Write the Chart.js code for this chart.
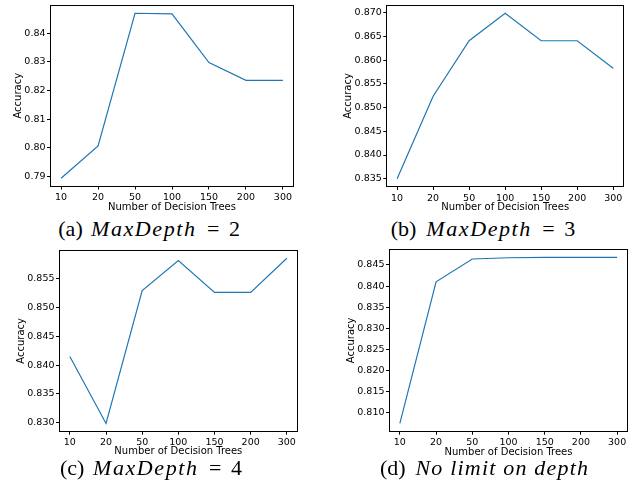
<!DOCTYPE html>
<html>
<head>
<meta charset="utf-8">
<script src="https://cdn.jsdelivr.net/npm/chart.js@4/dist/chart.umd.min.js"></script>
<style>
html,body{margin:0;padding:0;background:#fff;}
body{width:636px;height:487px;position:relative;overflow:hidden;}
canvas{position:absolute;}
.cap{position:absolute;font-family:"Liberation Serif","Times New Roman",serif;font-size:22px;line-height:22px;color:#000;white-space:pre;}
.cap.it{font-style:italic;}
</style>
</head>
<body>
<canvas id="cA" width="318" height="215" style="left:0px;top:0px"></canvas>
<canvas id="cB" width="318" height="215" style="left:318px;top:0px"></canvas>
<canvas id="cC" width="318" height="215" style="left:0px;top:243px"></canvas>
<canvas id="cD" width="318" height="215" style="left:318px;top:243px"></canvas>
<script>
// ---- data ----
const categories = ['10', '20', '50', '100', '150', '200', '300'];
const accDepth2  = [0.7894, 0.8007, 0.8470, 0.8468, 0.8298, 0.8236, 0.8236];
const accDepth3  = [0.8350, 0.8524, 0.8641, 0.8699, 0.8641, 0.8641, 0.8583];
const accDepth4  = [0.8415, 0.8299, 0.8529, 0.8581, 0.8526, 0.8526, 0.8585];
const accNoLimit = [0.8075, 0.8410, 0.8464, 0.8467, 0.8468, 0.8468, 0.8468];
const yTicksA = [0.79, 0.80, 0.81, 0.82, 0.83, 0.84];
const yTicksB = [0.835, 0.840, 0.845, 0.850, 0.855, 0.860, 0.865, 0.870];
const yTicksC = [0.830, 0.835, 0.840, 0.845, 0.850, 0.855];
const yTicksD = [0.810, 0.815, 0.820, 0.825, 0.830, 0.835, 0.840, 0.845];
const xTitle = 'Number of Decision Trees';
const yTitle = 'Accuracy';

// ---- layout (page coordinates) ----
const specs = {
  A: {box:{x:0,y:0,w:318,h:215},   area:{l:50,t:5,r:294,b:186.5},    yTitleX:18.3,  xTitleY:207},
  B: {box:{x:318,y:0,w:318,h:215}, area:{l:386.3,t:5,r:624,b:187},   yTitleX:348,   xTitleY:207},
  C: {box:{x:0,y:243,w:318,h:215}, area:{l:59,t:250,r:297.7,b:431.7}, yTitleX:21,   xTitleY:451.5},
  D: {box:{x:318,y:243,w:318,h:215},area:{l:389,t:249,r:628,b:431.7}, yTitleX:351.5,xTitleY:452}
};

const framePlugin = {
  id: 'frame',
  afterDatasetsDraw(chart) {
    const {ctx, chartArea: a} = chart;
    ctx.save();
    ctx.strokeStyle = '#000';
    ctx.lineWidth = 1;
    const l = Math.round(a.left) + 0.5, t = Math.round(a.top) + 0.5;
    const r = Math.round(a.right) - 0.5, b = Math.round(a.bottom) - 0.5;
    ctx.strokeRect(l, t, r - l, b - t);
    ctx.restore();
  }
};

function makeChart(id, values, yTicks, decimals, spec) {
  const {box, area, yTitleX, xTitleY} = spec;
  const lh = 12;
  const lo = Math.min(...values), hi = Math.max(...values);
  const m = (hi - lo) * 0.05;
  const tickFont = {family: 'DejaVu Sans', size: 9.5};
  const titleFont = {family: 'DejaVu Sans', size: 10, lineHeight: 1.2};
  new Chart(document.getElementById(id), {
    type: 'line',
    data: {
      datasets: [{
        data: values.map((v, i) => ({x: i, y: v})),
        borderColor: '#1f77b4',
        borderWidth: 1.2,
        pointRadius: 0,
        tension: 0,
        fill: false
      }]
    },
    options: {
      responsive: false,
      animation: false,
      devicePixelRatio: 1,
      events: [],
      layout: {padding: {left: 0, top: area.t - box.y, right: box.x + box.w - area.r, bottom: 0}},
      plugins: {legend: {display: false}, tooltip: {enabled: false}},
      scales: {
        x: {
          type: 'linear',
          min: -0.3,
          max: categories.length - 1 + 0.3,
          afterBuildTicks: s => { s.ticks = categories.map((c, i) => ({value: i})); },
          afterFit: s => { s.height = box.y + box.h - area.b; s.paddingLeft = 0; s.paddingRight = 0; },
          ticks: {callback: v => categories[v], font: tickFont, color: '#000', padding: 2.5, maxRotation: 0, autoSkip: false},
          grid: {display: true, drawOnChartArea: false, drawTicks: true, tickLength: 3, color: '#000', lineWidth: 1},
          border: {display: false},
          title: {display: true, text: xTitle, font: titleFont, color: '#000',
                  padding: {top: 0, bottom: box.y + box.h - xTitleY - lh / 2}}
        },
        y: {
          type: 'linear',
          min: lo - m,
          max: hi + m,
          afterBuildTicks: s => { s.ticks = yTicks.map(v => ({value: v})); },
          afterFit: s => { s.width = area.l - box.x; s.paddingTop = 0; s.paddingBottom = 0; },
          ticks: {callback: v => Number(v).toFixed(decimals), font: tickFont, color: '#000', padding: 1.5},
          grid: {display: true, drawOnChartArea: false, drawTicks: true, tickLength: 3, color: '#000', lineWidth: 1},
          border: {display: false},
          title: {display: true, text: yTitle, font: titleFont, color: '#000',
                  padding: {top: yTitleX - box.x - lh / 2, bottom: 0}}
        }
      }
    },
    plugins: [framePlugin]
  });
}

makeChart('cA', accDepth2, yTicksA, 2, specs.A);
makeChart('cB', accDepth3, yTicksB, 3, specs.B);
makeChart('cC', accDepth4, yTicksC, 3, specs.C);
makeChart('cD', accNoLimit, yTicksD, 3, specs.D);

// ---- captions: [text, italic, left x, target right x or null] ----
const captions = [
  {base: 236.5, pieces: [['(a)', false, 58.3, null], ['MaxDepth', true, 91, 195], ['=', false, 207, null], ['2', false, 229, null]]},
  {base: 236.5, pieces: [['(b)', false, 390.7, null], ['MaxDepth', true, 426.3, 530.3], ['=', false, 542.3, null], ['3', false, 564.3, null]]},
  {base: 475.5, pieces: [['(c)', false, 60, null], ['MaxDepth', true, 93, 197], ['=', false, 209, null], ['4', false, 231, null]]},
  {base: 475.5, pieces: [['(d)', false, 380, null], ['No limit on depth', true, 415.5, 588]]}
];
const baseOff = 18.4;
captions.forEach(c => {
  c.pieces.forEach(([t, it, x, xEnd]) => {
    const d = document.createElement('div');
    d.className = it ? 'cap it' : 'cap';
    d.textContent = t;
    d.style.left = x + 'px';
    d.style.top = (c.base - baseOff) + 'px';
    document.body.appendChild(d);
    if (xEnd !== null) {
      const w = d.getBoundingClientRect().width;
      const ls = (xEnd - x - w) / Math.max(1, t.length - 1);
      d.style.letterSpacing = ls + 'px';
    }
  });
});
</script>
</body>
</html>
